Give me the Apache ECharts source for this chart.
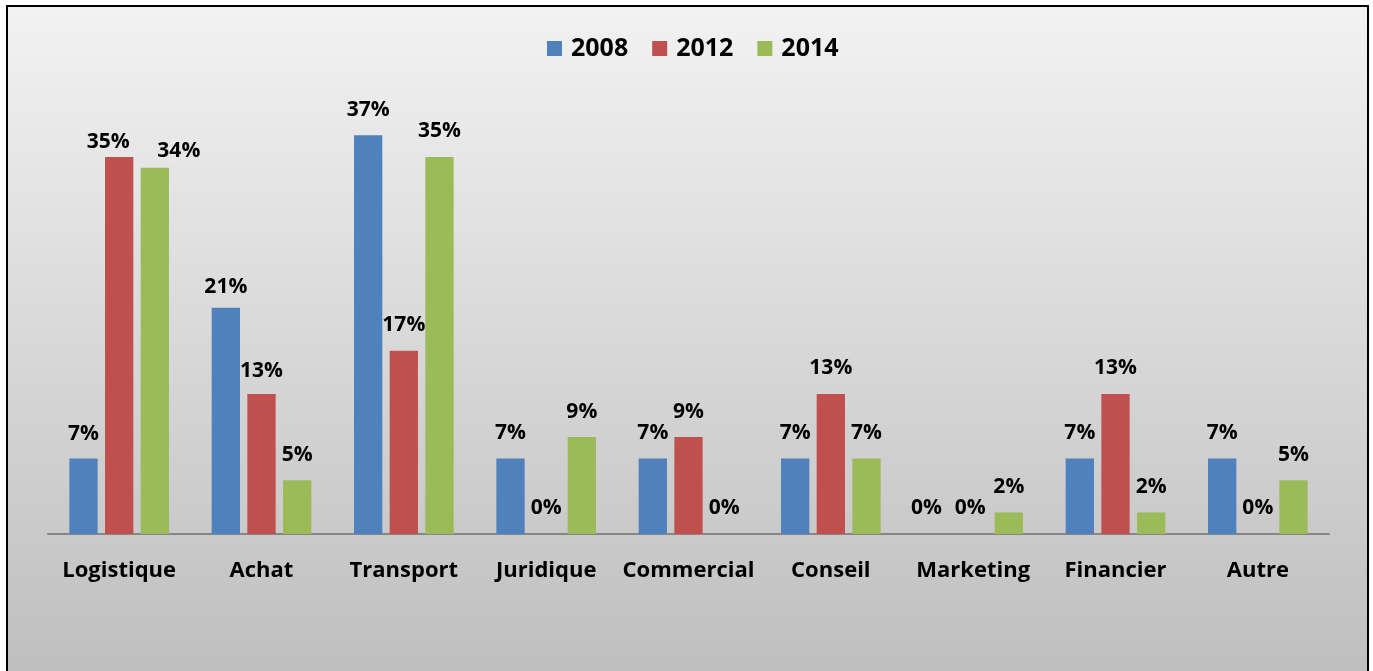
<!DOCTYPE html>
<html><head><meta charset="utf-8">
<script src="https://cdn.jsdelivr.net/npm/echarts@6/dist/echarts.min.js"></script>
<style>html,body{margin:0;padding:0;background:#fff}#c{width:1373px;height:671px}</style>
</head><body><div id="c"></div>
<script>
const categories = ['Logistique','Achat','Transport','Juridique','Commercial','Conseil','Marketing','Financier','Autre'];
const seriesNames = ['2008','2012','2014'];
const v2008 = [7,21,37,7,7,7,0,7,7];
const v2012 = [35,13,17,0,9,13,0,13,0];
const v2014 = [34,5,35,9,0,7,2,2,5];
const colors = ['#4F81BD','#C0504D','#9BBB59'];

// manual label placement tweaks (as in the original chart), keyed "series:categoryIndex"
const labelTweaks = {
  '1:0': {distance:4, offset:[-11,0]},
  '2:0': {distance:6, offset:[24,0]},
  '0:0': {distance:14},
  '0:1': {distance:10},
  '1:1': {distance:12},
  '0:6': {offset:[-11,0]},
  '1:6': {offset:[-3,0]}
};

const chart = echarts.init(document.getElementById('c'), null, {renderer:'canvas'});
const font = '"Open Sans", "Noto Sans", sans-serif';
const mk = (si, name, values, color) => ({
  name, type:'bar', barGap:'26%', barCategoryGap:'30%',
  data: values.map((v,i) => { const t = labelTweaks[si+':'+i]; return t ? {value:v, label:t} : v; }),
  itemStyle:{color},
  label:{show:true, position:'top', distance:15, formatter:'{c}%', fontFamily:font, fontWeight:'bold', fontSize:21, color:'#000'}
});
chart.setOption({
  animation:false,
  graphic:[{type:'rect', z:-10, silent:true, shape:{x:7,y:6,width:1361,height:700},
    style:{fill:new echarts.graphic.LinearGradient(0,0,0,1,[{offset:0,color:'#f2f2f2'},{offset:1,color:'#bcbcbc'}]), stroke:'#000', lineWidth:2}}],
  legend:{top:31, left:542, itemWidth:15, itemHeight:15, itemGap:24, icon:'rect',
    textStyle:{fontFamily:font, fontWeight:'bold', fontSize:25, color:'#000', padding:[0,0,0,4]}},
  grid:{left:48, right:44, top:103, bottom:137, containLabel:false},
  xAxis:{type:'category', data:categories, axisTick:{show:false},
    axisLine:{lineStyle:{color:'#868686', width:2}},
    axisLabel:{interval:0, margin:26, fontFamily:font, fontWeight:'bold', fontSize:22, color:'#000'}},
  yAxis:{type:'value', min:0, max:40, show:false, splitLine:{show:false}},
  series:[mk(0, seriesNames[0], v2008, colors[0]), mk(1, seriesNames[1], v2012, colors[1]), mk(2, seriesNames[2], v2014, colors[2])]
});
</script></body></html>
